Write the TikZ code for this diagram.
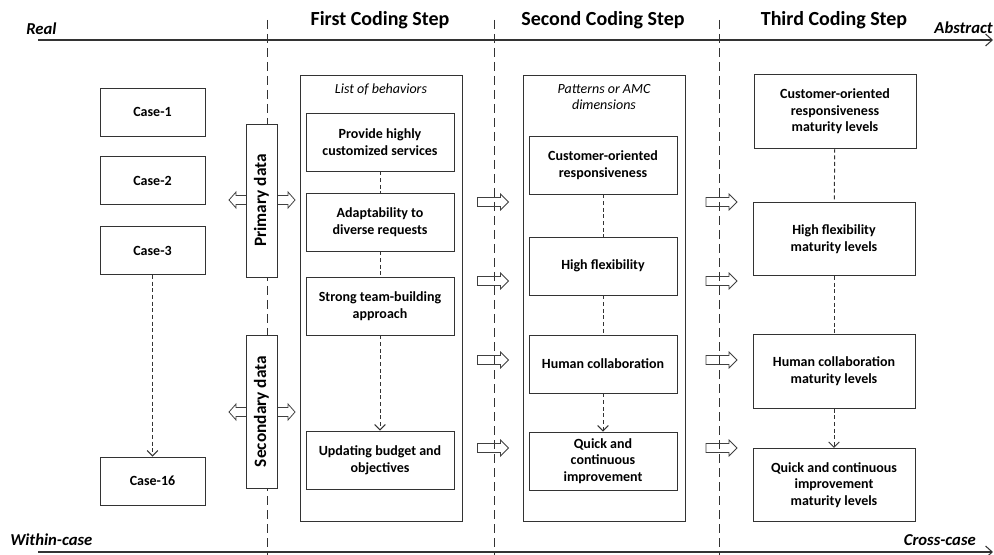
\documentclass[tikz,border=0pt]{standalone}
\usepackage{fontspec}
\setmainfont{Carlito}
\usetikzlibrary{arrows.meta}
\usetikzlibrary{positioning}

\begin{document}
\begin{tikzpicture}[x=0.75pt, y=-0.75pt,
    box/.style={draw=black!80, line width=0.7pt, align=center, inner sep=2pt,
      font=\fontsize{10.5}{12.5}\selectfont\bfseries},
    casebox/.style={box, minimum width=78.75pt, minimum height=36pt},
    behbox/.style={box, minimum width=111pt, minimum height=43.5pt},
    levelbox/.style={box, minimum width=121.5pt, minimum height=55pt},
    outerbox/.style={draw=black!80, line width=0.7pt, minimum width=121.5pt, minimum height=334.5pt},
    databox/.style={box, fill=white, rotate=90, minimum width=114.75pt, minimum height=23.25pt,
      font=\fontsize{13}{15}\selectfont\bfseries},
    divider/.style={draw=black!80, line width=0.7pt, dash pattern=on 7pt off 3.5pt},
    dashlink/.style={draw=black!80, line width=0.7pt, dash pattern=on 3pt off 2pt},
    dashlinkarr/.style={dashlink, -{Straight Barb[length=4pt, width=8pt]}},
    axisline/.style={draw=black!80, line width=0.8pt, -{Straight Barb[length=5pt, width=9pt]}},
    axislabel/.style={font=\fontsize{12.5}{15}\selectfont\bfseries\itshape, inner sep=0pt},
    steptitle/.style={font=\fontsize{15}{18}\selectfont\bfseries, inner sep=0pt},
    coltitle/.style={font=\fontsize{10.5}{12.5}\selectfont\itshape, align=center, inner sep=0pt},
    hollow/.style={draw=black!75, line width=0.6pt},
    fwdarrow/.pic={\path[hollow] (-15.5,-4.5) -- (7.5,-4.5) -- (7.5,-8) -- (15.5,0)
      -- (7.5,8) -- (7.5,4.5) -- (-15.5,4.5) -- cycle;},
    dblarrow/.pic={\path[hollow] (-26,-4.5) -- (26,-4.5) -- (26,-8) -- (33,0) -- (26,8)
      -- (26,4.5) -- (-26,4.5) -- (-26,8) -- (-33,0) -- (-26,-8) -- cycle;}]
  \useasboundingbox (0,0) rectangle (994,555);

  % axes
  \coordinate (topL) at (38,40); \coordinate (topR) at (993,40);
  \coordinate (botL) at (38,552); \coordinate (botR) at (993,552);
  \draw[axisline] (topL) -- (topR);
  \draw[axisline] (botL) -- (botR);
  \node[axislabel, anchor=west] (real) at (26,29) {Real}; %
  \node[axislabel, anchor=east] (abstract) at (993,28) {Abstract}; %
  \node[axislabel, anchor=west] (within) at (10,540) {Within-case}; %
  \node[axislabel, anchor=east] (cross) at (976,540) {Cross-case}; %

  % step dividers and titles
  \foreach \x/\n in {267/a, 494/b, 719/c} {
    \coordinate (div\n-t) at (\x,20); \coordinate (div\n-b) at (\x,555);
    \draw[divider] (div\n-t) -- (div\n-b);
  }
  \node[steptitle] (step1) at (380,20) {First Coding Step}; %
  \node[steptitle] (step2) at (603,20) {Second Coding Step}; %
  \node[steptitle] (step3) at (834,20) {Third Coding Step}; %

  % cases
  \node[casebox] (case1) at (152.5,112) {Case-1}; %
  \node[casebox, below=15pt of case1] (case2) {Case-2}; %
  \node[casebox, below=15.5pt of case2] (case3) {Case-3}; %
  \node[casebox] (case16) at (152.5,481) {Case-16}; %
  \draw[dashlinkarr] (case3) -- (case16);

  % data sources
  \pic at (262,200) {dblarrow};
  \node[databox] (primary) at (261.5,200.5) {Primary data}; %
  \pic at (262,412) {dblarrow};
  \node[databox] (secondary) at (261.5,411.5) {Secondary data}; %

  % first coding step
  \node[outerbox] (behaviors) at (381,298) {}; %
  \node[coltitle] (behtitle) at (381,89) {List of behaviors}; %
  \node[behbox] (beh1) at (380,142) {Provide highly\\customized services}; %
  \node[behbox] (beh2) at (380,222) {Adaptability to\\diverse requests}; %
  \node[behbox] (beh3) at (380,306) {Strong team-building\\approach}; %
  \node[behbox] (beh4) at (380,460) {Updating budget and\\objectives}; %
  \draw[dashlink] (beh1) -- (beh2); \draw[dashlink] (beh2) -- (beh3);
  \draw[dashlinkarr] (beh3) -- (beh4);

  % second coding step
  \node[outerbox] (patterns) at (604,298) {}; %
  \node[coltitle] (pattitle) at (604,97) {Patterns or AMC\\dimensions}; %
  \node[behbox] (dim1) at (603,165) {Customer-oriented\\responsiveness}; %
  \node[behbox] (dim2) at (603,266) {High flexibility}; %
  \node[behbox] (dim3) at (603,364) {Human collaboration}; %
  \node[behbox] (dim4) at (603,461) {Quick and\\continuous\\improvement}; %
  \draw[dashlink] (dim1) -- (dim2); \draw[dashlink] (dim2) -- (dim3);
  \draw[dashlinkarr] (dim3) -- (dim4);

  % third coding step
  \node[levelbox] (lvl1) at (835,111.5) {Customer-oriented\\responsiveness\\maturity levels}; %
  \node[levelbox] (lvl2) at (834,239) {High flexibility\\maturity levels}; %
  \node[levelbox] (lvl3) at (834,371.5) {Human collaboration\\maturity levels}; %
  \node[levelbox] (lvl4) at (834,485) {Quick and continuous\\improvement\\maturity levels}; %
  \draw[dashlink] (lvl1) -- (lvl2); \draw[dashlink] (lvl2) -- (lvl3);
  \draw[dashlinkarr] (lvl3) -- (lvl4);

  % hand-over arrows between steps
  \foreach \y in {202,281,360,448} {
    \pic at (493,\y) {fwdarrow};
    \pic at (721.5,\y) {fwdarrow};
  }
\end{tikzpicture}
\end{document}
